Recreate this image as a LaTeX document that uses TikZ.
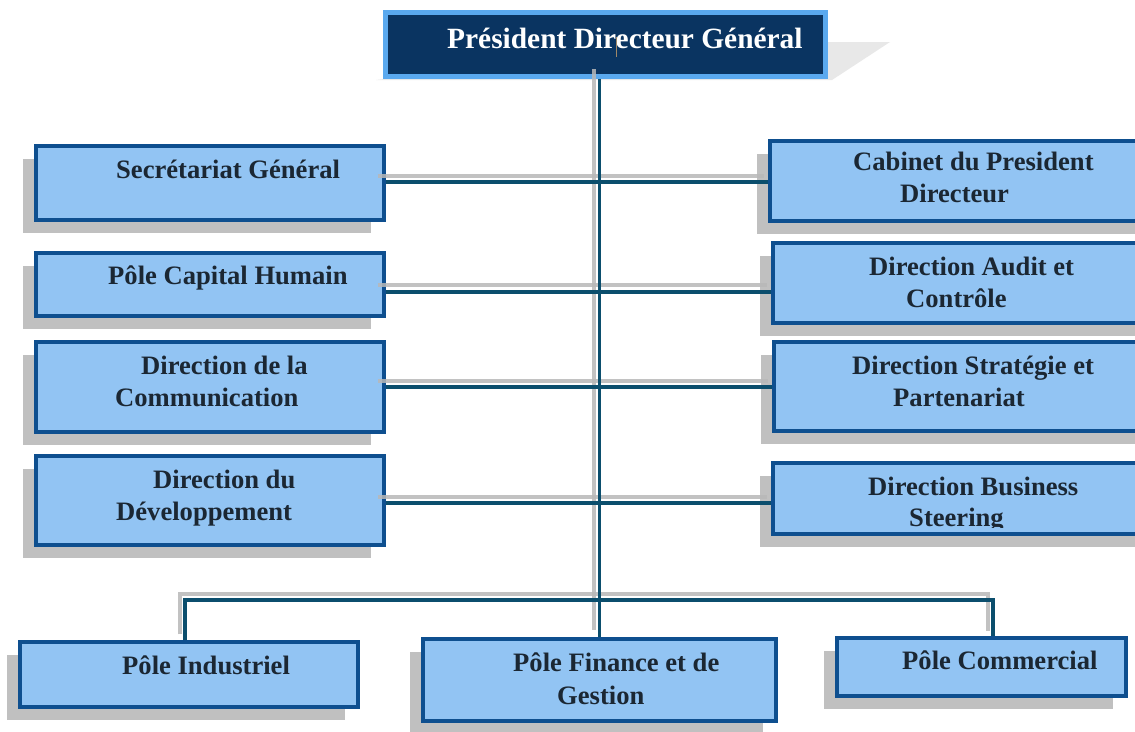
\documentclass[tikz,border=0pt]{standalone}
\usepackage{fontspec}
\setmainfont{Liberation Serif}
\usetikzlibrary{calc,shadows}
\definecolor{boxfill}{HTML}{92C4F3}
\definecolor{boxline}{HTML}{0E4F8F}
\definecolor{topfill}{HTML}{0A3461}
\definecolor{topline}{HTML}{5AA9EF}
\definecolor{conn}{HTML}{0B4E6D}
\definecolor{connshadow}{HTML}{B8B8B8}
\definecolor{shade}{HTML}{C0C0C0}
\definecolor{topshade}{HTML}{E8E8E8}
\definecolor{txt}{HTML}{1B2733}
\definecolor{cursorc}{HTML}{A08868}
\begin{document}
\begin{tikzpicture}[x=1pt,y=-1pt,
  box/.style={draw=boxline, line width=3.5pt, fill=boxfill, inner sep=0pt,
    drop shadow={shadow xshift=-13pt, shadow yshift=-13pt, opacity=1, fill=shade}},
  lbl/.style={anchor=base west, inner sep=0pt, text=txt, font=\fontsize{26.6}{30}\selectfont\bfseries},
  link/.style={draw=conn, line width=3.5pt},
  linkshadow/.style={draw=connshadow, line width=4pt, opacity=0.85},
]
\useasboundingbox (0,0) rectangle (1135,731);
\fill[white] (0,0) rectangle (1135,731);

% top box shadow
\fill[topshade] (376,80) -- (832,80) -- (890,42) -- (700,42) -- cycle;
\node[draw=topline, line width=5pt, fill=topfill, inner sep=0pt,
  minimum width=440pt, minimum height=64pt] (pdg) at (605.5,44.5) {};

% left column
\node[box, minimum width=348pt, minimum height=74pt] (sg)  at (210,183) {};
\node[box, minimum width=348pt, minimum height=63pt] (pch) at (210,284.5) {};
\node[box, minimum width=348pt, minimum height=90pt] (com) at (210,387) {};
\node[box, minimum width=348pt, minimum height=89pt] (dev) at (210,500.5) {};

% right column
\node[box, minimum width=380pt, minimum height=80pt] (cab) at (960,181) {};
\node[box, minimum width=378pt, minimum height=80pt] (aud) at (962,283) {};
\node[box, minimum width=376pt, minimum height=89pt] (str) at (962,386.5) {};
\node[box, minimum width=378pt, minimum height=71pt] (bus) at (962,498.5) {};

% bottom row
\node[box, minimum width=338pt, minimum height=65pt] (ind)  at (189,674.5) {};
\node[box, minimum width=353pt, minimum height=82pt] (fin)  at (599.5,680) {};
\node[box, minimum width=289pt, minimum height=58pt] (comm) at (981.5,667) {};

% connector shadows
\draw[linkshadow] ($(pdg.south -| fin.north)+(-6,-10)$) -- ($(fin.north)+(-6,-7)$);
\draw[linkshadow] ($(sg.east |- 0,176)+(-8,0)$) -- ($(cab.west |- 0,176)+(-4,0)$);
\draw[linkshadow] ($(pch.east |- 0,285)+(-8,0)$) -- ($(aud.west |- 0,285)+(-4,0)$);
\draw[linkshadow] ($(com.east |- 0,381)+(-8,0)$) -- ($(str.west |- 0,381)+(-4,0)$);
\draw[linkshadow] ($(dev.east |- 0,497)+(-8,0)$) -- ($(bus.west |- 0,497)+(-4,0)$);
\coordinate (gl) at (180,594);
\coordinate (gr) at (988,594);
\draw[linkshadow] ($(gl |- ind.north)+(0,-6)$) -- (gl) -- (gr) -- ($(gr |- comm.north)+(0,-5)$);

% connectors
\draw[link] (pdg.south -| fin.north) -- (fin.north);
\draw[link] (sg.east |- 0,182) -- (cab.west |- 0,182);
\draw[link] (pch.east |- 0,292) -- (aud.west |- 0,292);
\draw[link] (com.east |- 0,387) -- (str.west |- 0,387);
\draw[link] (dev.east |- 0,503) -- (bus.west |- 0,503);
\coordinate (bl) at (185,600);
\coordinate (br) at (993,600);
\draw[link] (bl |- ind.north) -- (bl) -- (br) -- (br |- comm.north);

% texts
\node[anchor=base west, inner sep=0pt, text=white, font=\fontsize{29.4}{33}\selectfont\bfseries] (tpdg) at (447,48) {Président Directeur Général};
\draw[cursorc, line width=1pt] (616,37) -- (616,57);

\node[lbl] (tsg)  at (116,178) {Secrétariat Général};
\node[lbl] (tpch) at (108,284) {Pôle Capital Humain};
\node[lbl] (tcom1) at (141,374) {Direction de la};
\node[lbl] (tcom2) at (115,406) {Communication};
\node[lbl] (tdev1) at (153,488) {Direction du};
\node[lbl] (tdev2) at (116,520) {Développement};

\node[lbl] (tcab1) at (853,170) {Cabinet du President};
\node[lbl] (tcab2) at (900,202) {Directeur};
\node[lbl] (taud1) at (869,275) {Direction Audit et};
\node[lbl] (taud2) at (906,307) {Contrôle};
\node[lbl] (tstr1) at (852,374) {Direction Stratégie et};
\node[lbl] (tstr2) at (893,406) {Partenariat};
\node[lbl] (tbus1) at (868,495) {Direction Business};
\begin{scope}
\clip (760,505) rectangle (1135,527);
\node[lbl] (tbus2) at (909,526) {Steering};
\end{scope}

\node[lbl] (tind)  at (122,674) {Pôle Industriel};
\node[lbl] (tfin1) at (513,671) {Pôle Finance et de};
\node[lbl] (tfin2) at (557,704) {Gestion};
\node[lbl] (tcomm) at (902,669) {Pôle Commercial};
\end{tikzpicture}
\end{document}
